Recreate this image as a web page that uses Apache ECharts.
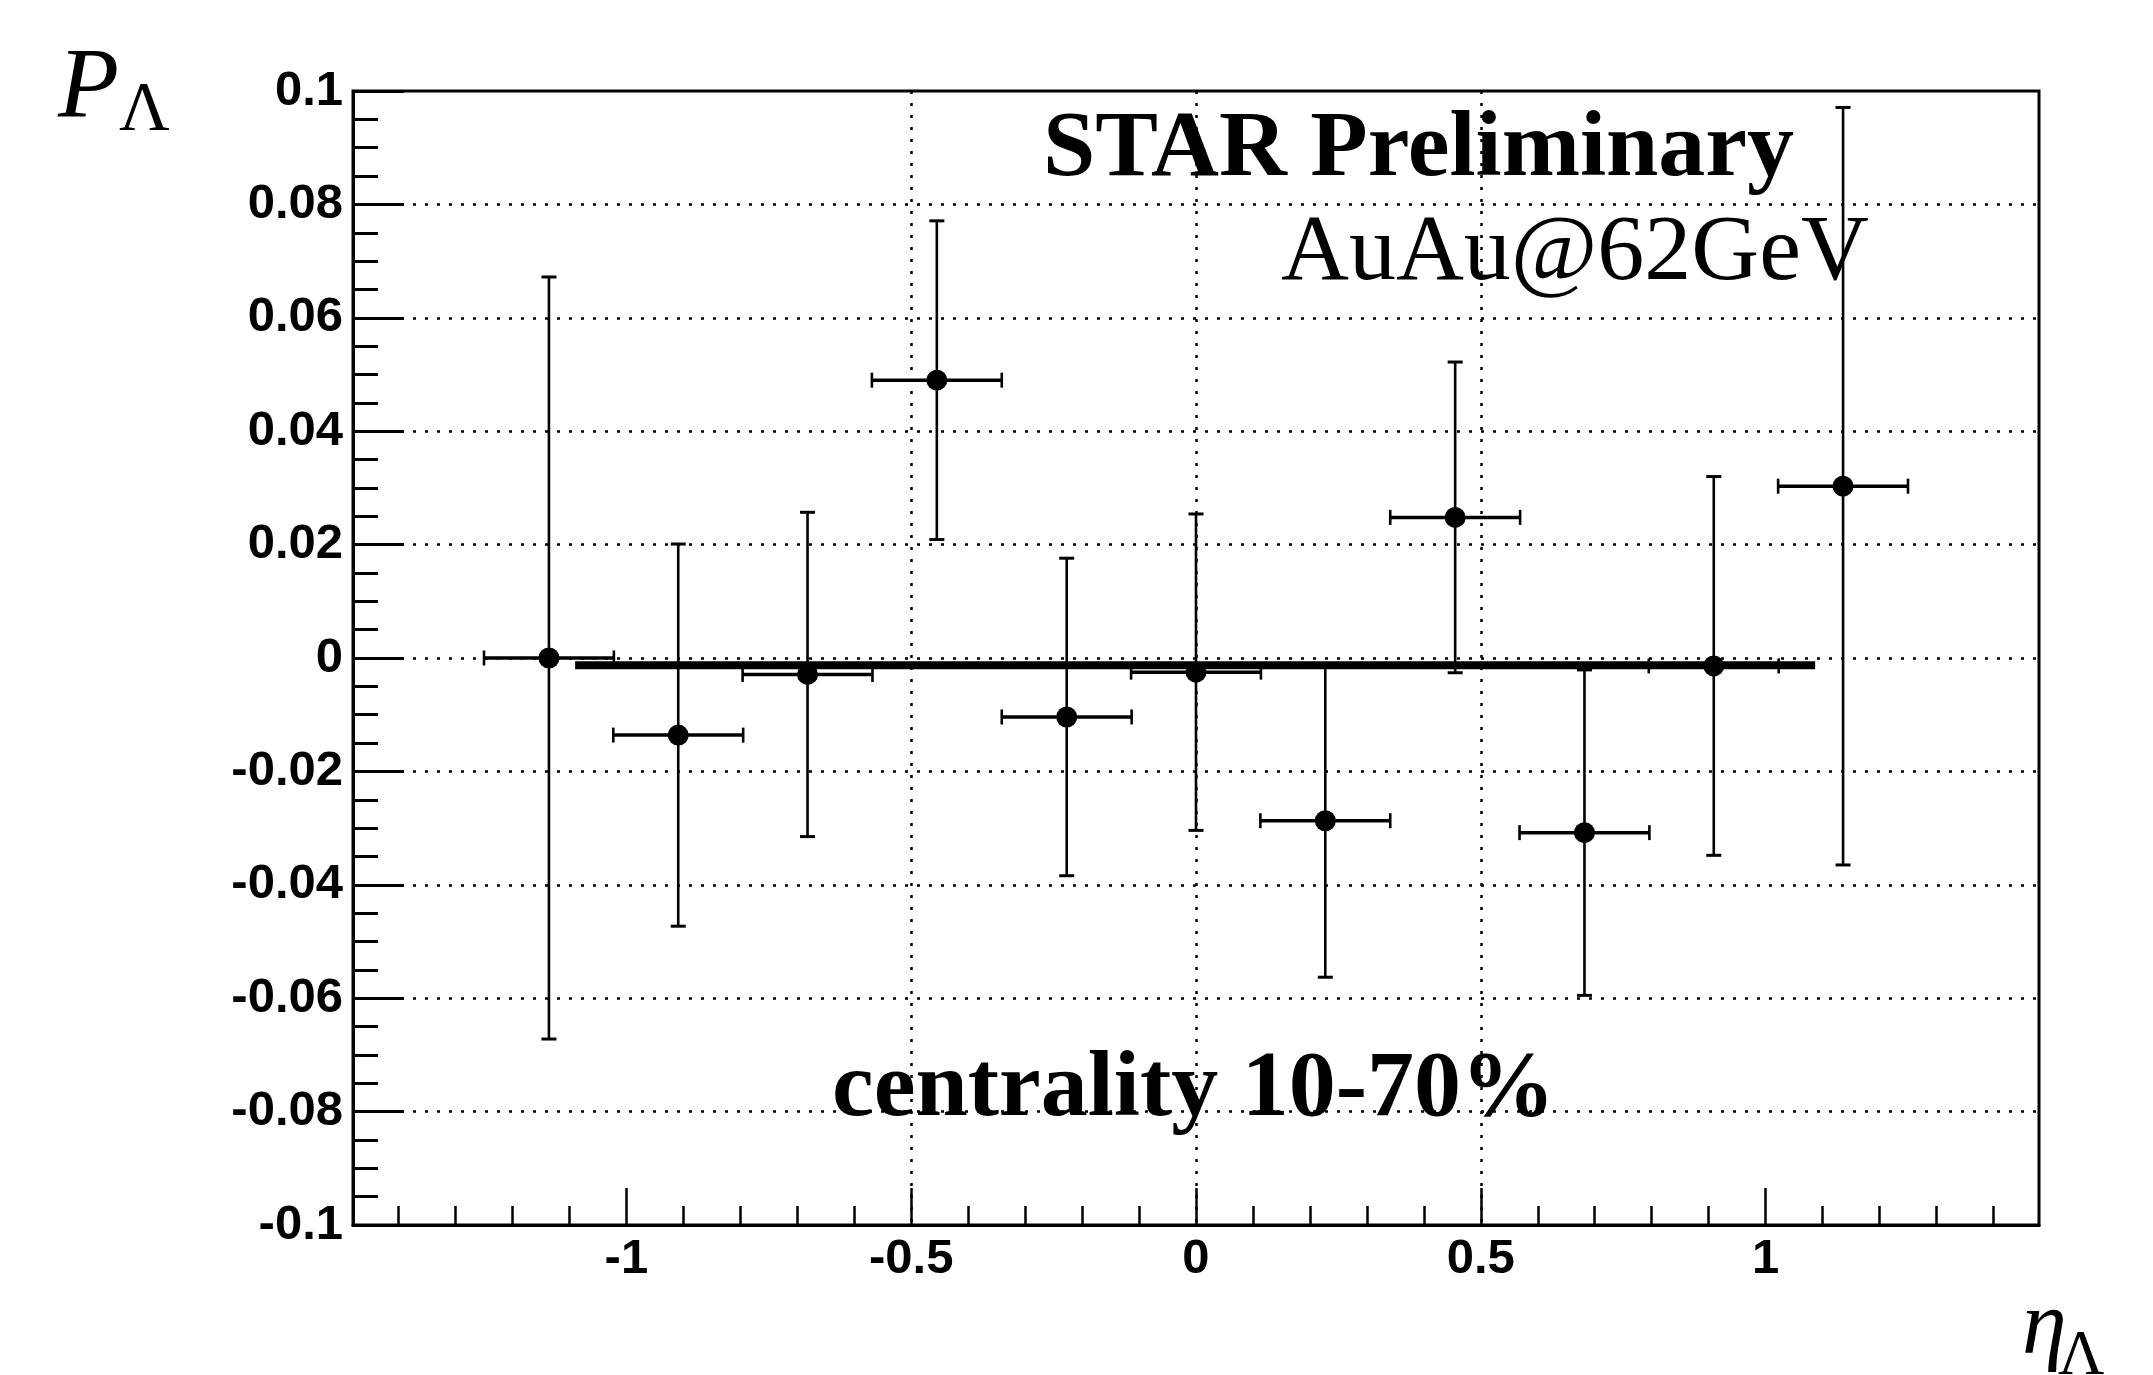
<!DOCTYPE html>
<html>
<head>
<meta charset="utf-8">
<title>Lambda polarization vs eta</title>
<script src="https://cdn.jsdelivr.net/npm/echarts@6/dist/echarts.min.js"></script>
<style>
  html, body { margin: 0; padding: 0; background: #fff; }
  #chart { width: 2153px; height: 1375px; }
</style>
</head>
<body>
<div id="chart"></div>
<script>
// eta bins: 11 bins between -1.25 and 1.25
const etaCenters = [-1.136, -0.909, -0.682, -0.455, -0.227, 0, 0.227, 0.455, 0.682, 0.909, 1.136];
const etaErr = [0.114, 0.114, 0.114, 0.114, 0.114, 0.114, 0.114, 0.114, 0.114, 0.114, 0.114];

// P_Lambda and its stat. error
const polValues = [0.0, -0.0136, -0.0029, 0.049, -0.0104, -0.0025, -0.0287, 0.0248, -0.0308, -0.0014, 0.0303];
const polErr = [0.0672, 0.0337, 0.0286, 0.0281, 0.028, 0.0279, 0.0276, 0.0274, 0.0287, 0.0334, 0.0668];

// constant fit
const fitRange = [-1.09, 1.087];
const fitValue = -0.0013;

// tick positions on the eta axis
const xMajorTicks = [-1, -0.5, 0, 0.5, 1];
const xMinorTicks = [-1.4, -1.3, -1.2, -1.1, -0.9, -0.8, -0.7, -0.6, -0.4, -0.3, -0.2, -0.1,
  0.1, 0.2, 0.3, 0.4, 0.6, 0.7, 0.8, 0.9, 1.1, 1.2, 1.3, 1.4];

const chart = echarts.init(document.getElementById("chart"));

const labelFont = {
  color: "#000",
  fontFamily: "Liberation Sans, Arial, sans-serif",
  fontWeight: "bold",
  fontSize: 49,
};
const dotted = { color: "#000", width: 2.5, type: [3, 9] };

// error bars with end caps (ROOT style)
function renderErrorBars(params, api) {
  const x = api.value(0);
  const y = api.value(1);
  const ex = api.value(2);
  const ey = api.value(3);
  const left = api.coord([x - ex, y]);
  const right = api.coord([x + ex, y]);
  const top = api.coord([x, y + ey]);
  const bottom = api.coord([x, y - ey]);
  const cap = 7.5;
  const thin = { stroke: "#000", lineWidth: 2.6 };
  return {
    type: "group",
    children: [
      { type: "line", shape: { x1: left[0], y1: left[1], x2: right[0], y2: right[1] }, style: { stroke: "#000", lineWidth: 3.5 } },
      { type: "line", shape: { x1: left[0], y1: left[1] - cap, x2: left[0], y2: left[1] + cap }, style: thin },
      { type: "line", shape: { x1: right[0], y1: right[1] - cap, x2: right[0], y2: right[1] + cap }, style: thin },
      { type: "line", shape: { x1: top[0], y1: top[1], x2: bottom[0], y2: bottom[1] }, style: thin },
      { type: "line", shape: { x1: top[0] - cap, y1: top[1], x2: top[0] + cap, y2: top[1] }, style: { stroke: "#000", lineWidth: 3 } },
      { type: "line", shape: { x1: bottom[0] - cap, y1: bottom[1], x2: bottom[0] + cap, y2: bottom[1] }, style: { stroke: "#000", lineWidth: 3 } },
    ],
  };
}

const option = {
  animation: false,
  backgroundColor: "#fff",
  grid: {
    left: 353,
    right: 114,
    top: 91,
    bottom: 150,
    show: true,
    borderColor: "#000",
    borderWidth: 3,
  },
  xAxis: [
    {
      type: "value",
      min: -1.48,
      max: 1.48,
      splitNumber: 5,
      position: "bottom",
      axisLine: { show: true, onZero: false, lineStyle: { color: "#000", width: 3 } },
      axisTick: { show: true, inside: true, length: 37, customValues: xMajorTicks, lineStyle: { color: "#000", width: 2.5 } },
      axisLabel: Object.assign({ customValues: xMajorTicks, margin: 10 }, labelFont),
      splitLine: { show: true, showMinLine: false, showMaxLine: false, lineStyle: dotted },
    },
    {
      type: "value",
      min: -1.48,
      max: 1.48,
      position: "bottom",
      axisLine: { show: false, onZero: false },
      axisTick: { show: true, inside: true, length: 19, customValues: xMinorTicks, lineStyle: { color: "#000", width: 2.5 } },
      axisLabel: { show: false },
      splitLine: { show: false },
    },
  ],
  yAxis: {
    type: "value",
    min: -0.1,
    max: 0.1,
    interval: 0.02,
    axisLine: { show: true, onZero: false, lineStyle: { color: "#000", width: 3 } },
    axisTick: { show: true, inside: true, length: 51, lineStyle: { color: "#000", width: 3 } },
    minorTick: { show: true, splitNumber: 4, length: 25, lineStyle: { color: "#000", width: 3 } },
    axisLabel: Object.assign({ margin: 10 }, labelFont),
    splitLine: { show: true, showMinLine: false, showMaxLine: false, lineStyle: dotted },
  },
  series: [
    {
      name: "errors",
      type: "custom",
      renderItem: renderErrorBars,
      encode: { x: 0, y: 1 },
      data: etaCenters.map((x, i) => [x, polValues[i], etaErr[i], polErr[i]]),
      z: 3,
    },
    {
      name: "fit",
      type: "line",
      data: fitRange.map((x) => [x, fitValue]),
      showSymbol: false,
      lineStyle: { color: "#000", width: 8 },
      z: 4,
    },
    {
      name: "P",
      type: "scatter",
      data: etaCenters.map((x, i) => [x, polValues[i]]),
      symbol: "circle",
      symbolSize: 21,
      itemStyle: { color: "#000", opacity: 1 },
      z: 5,
    },
  ],
  graphic: [
    { type: "text", x: 58, y: 90, style: { text: "P", font: 'italic 100px "Liberation Serif"', fill: "#000", align: "left", verticalAlign: "middle" } },
    { type: "text", x: 119, y: 112, style: { text: "Λ", font: '70px "Liberation Serif"', fill: "#000", align: "left", verticalAlign: "middle" } },
    { type: "text", x: 2022, y: 1329, style: { text: "η", font: 'italic 90px "Liberation Serif"', fill: "#000", align: "left", verticalAlign: "middle" } },
    { type: "text", x: 2058, y: 1357, style: { text: "Λ", font: '64px "Liberation Serif"', fill: "#000", align: "left", verticalAlign: "middle" } },
    { type: "text", x: 1043, y: 151, style: { text: "STAR Preliminary", font: 'bold 94px "Liberation Serif"', fill: "#000", align: "left", verticalAlign: "middle", scaleY: 1 } },
    { type: "text", x: 1281, y: 254, style: { text: "AuAu@62GeV", font: '94px "Liberation Serif"', fill: "#000", align: "left", verticalAlign: "middle" } },
    { type: "text", x: 832, y: 1091, style: { text: "centrality 10-70%", font: 'bold 94px "Liberation Serif"', fill: "#000", align: "left", verticalAlign: "middle" } },
  ],
};

chart.setOption(option);
</script>
</body>
</html>
